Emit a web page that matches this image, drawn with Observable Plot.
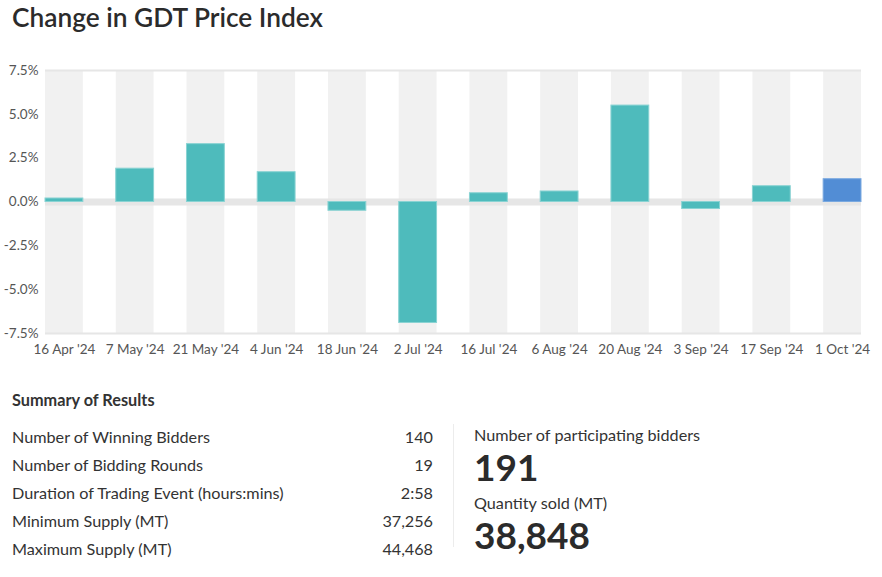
<!DOCTYPE html>
<html>
<head>
<meta charset="utf-8">
<script src="https://cdn.jsdelivr.net/npm/d3@7"></script>
<script src="https://cdn.jsdelivr.net/npm/@observablehq/plot@0.6"></script>
<style>
  html, body { margin: 0; padding: 0; background: #fff; }
  body { width: 882px; height: 577px; position: relative; font-family: Lato, "Open Sans", sans-serif; color: #333; overflow: hidden; }
  #title { position: absolute; left: 12px; top: 1px; font-size: 26.3px; font-weight: 600; color: #2b2b2b; }
  #chart { position: absolute; left: 0; top: 50px; }
  #summary-title { position: absolute; left: 12px; top: 390px; font-size: 16.3px; font-weight: 700; color: #333; }
  .row { position: absolute; left: 12px; width: 421px; font-size: 16.2px; color: #333; display: flex; justify-content: space-between; line-height: 18px; }
  #divider { position: absolute; left: 453px; top: 424px; width: 1px; height: 123px; background: #ececec; }
  .stat-label { position: absolute; left: 474px; font-size: 16.2px; color: #333; line-height: 18px; }
  .stat-value { position: absolute; left: 474px; font-size: 37px; font-weight: 700; color: #2b2b2b; line-height: 40px; }
</style>
</head>
<body>
<div id="title">Change in GDT Price Index</div>
<div id="chart"></div>
<div id="summary-title">Summary of Results</div>
<div id="rows"></div>
<div id="divider"></div>
<div id="stats"></div>
<script>
const dates = ["16 Apr '24", "7 May '24", "21 May '24", "4 Jun '24", "18 Jun '24", "2 Jul '24", "16 Jul '24", "6 Aug '24", "20 Aug '24", "3 Sep '24", "17 Sep '24", "1 Oct '24"];
const changes = [0.2, 1.9, 3.3, 1.7, -0.5, -6.9, 0.5, 0.6, 5.5, -0.4, 0.9, 1.3];
const yTicks = [-7.5, -5, -2.5, 0, 2.5, 5, 7.5];

const summaryLabels = ["Number of Winning Bidders", "Number of Bidding Rounds", "Duration of Trading Event (hours:mins)", "Minimum Supply (MT)", "Maximum Supply (MT)"];
const summaryValues = ["140", "19", "2:58", "37,256", "44,468"];
const statLabels = ["Number of participating bidders", "Quantity sold (MT)"];
const statValues = ["191", "38,848"];

const data = dates.map((d, i) => ({date: d, change: changes[i], latest: i === dates.length - 1}));

const chart = Plot.plot({
  width: 882,
  height: 310,
  marginLeft: 45,
  marginRight: 21,
  marginTop: 20,
  marginBottom: 27,
  style: {fontFamily: "Lato, sans-serif", fontSize: "13.5px", color: "#555", background: "transparent"},
  x: {domain: dates, paddingInner: 0.465, paddingOuter: 0, round: false, label: null},
  y: {domain: [-7.5, 7.5], label: null},
  marks: [
    Plot.barY(data, {x: "date", y1: -7.5, y2: 7.5, fill: "#f1f1f1"}),
    Plot.ruleY([-7.5, 7.5], {stroke: "#e6e6e6", strokeWidth: 2}),
    Plot.ruleY([0], {stroke: "#e6e6e6", strokeWidth: 7}),
    Plot.barY(data, {x: "date", y: "change", fill: d => d.latest ? "#528dd5" : "#4ebbbc", stroke: d => d.latest ? "#7aa9e0" : "#8ad3d3", strokeWidth: 1}),
    Plot.axisX({tickSize: 0, tickPadding: 11, fill: "#555"}),
    Plot.axisY({ticks: yTicks, tickFormat: d => d.toFixed(1) + "%", tickSize: 0, tickPadding: 7, fill: "#555"})
  ]
});
document.getElementById("chart").appendChild(chart);

const rows = document.getElementById("rows");
summaryLabels.forEach((l, i) => {
  const r = document.createElement("div");
  r.className = "row";
  r.style.top = (428 + i * 28) + "px";
  r.innerHTML = `<span>${l}</span><span>${summaryValues[i]}</span>`;
  rows.appendChild(r);
});
const stats = document.getElementById("stats");
const labelTops = [426, 494];
const valueTops = [447, 515];
statLabels.forEach((l, i) => {
  const a = document.createElement("div");
  a.className = "stat-label"; a.style.top = labelTops[i] + "px"; a.textContent = l;
  const b = document.createElement("div");
  b.className = "stat-value"; b.style.top = valueTops[i] + "px"; b.textContent = statValues[i];
  stats.appendChild(a); stats.appendChild(b);
});
</script>
</body>
</html>
